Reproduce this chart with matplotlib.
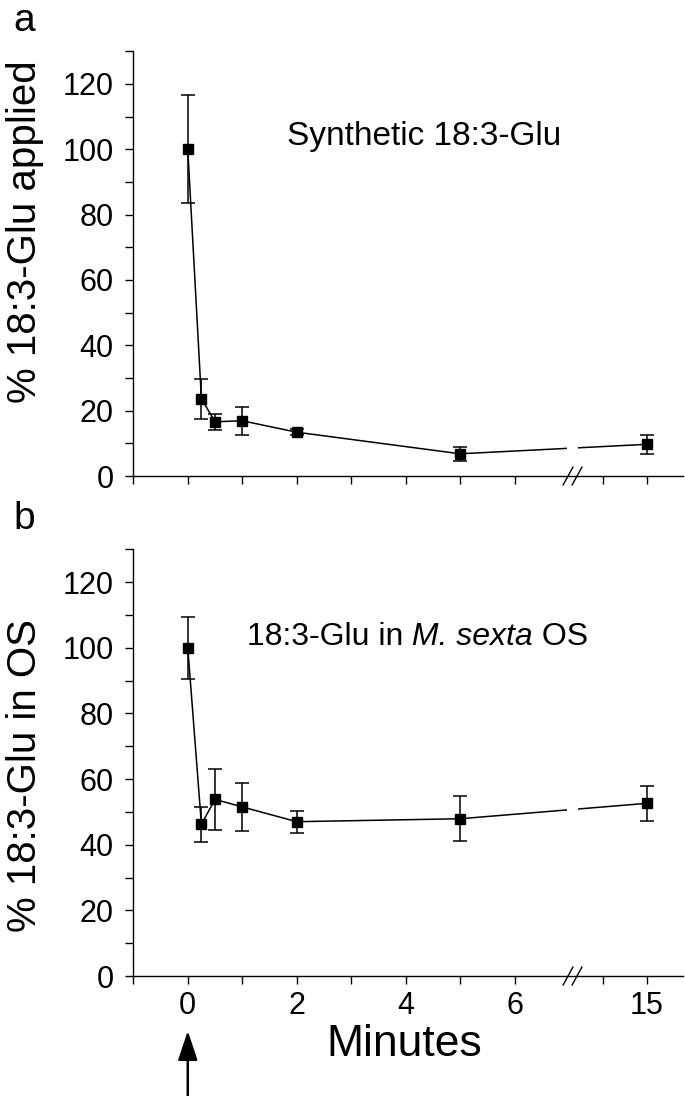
import numpy as np
import matplotlib.pyplot as plt
from matplotlib import font_manager

plt.rcParams['font.family'] = ['Liberation Sans', 'DejaVu Sans']

# time points (minutes); 15 min sits after the axis break
minutes = [0, 0.25, 0.5, 1, 2, 5, 15]
tick_labels = ['0', '2', '4', '6', '15']

# panel a: synthetic 18:3-Glu
syn_mean = [100, 23.7, 16.6, 16.9, 13.4, 6.8, 9.7]
syn_err = [16.5, 6.1, 2.5, 4.3, 1.0, 2.2, 3.0]

# panel b: 18:3-Glu in M. sexta OS
os_mean = [100, 46.2, 53.8, 51.5, 47.0, 47.9, 52.6]
os_err = [9.5, 5.4, 9.2, 7.3, 3.4, 6.8, 5.3]

W, H = 685, 1096

# tick numbers in the original are narrow, use the narrow face if present
try:
    font_manager.findfont(font_manager.FontProperties(family='Liberation Sans Narrow'),
                          fallback_to_default=False)
    tick_font, tick_size = 'Liberation Sans Narrow', 26
except Exception:
    tick_font, tick_size = 'Liberation Sans', 22


def xpos(t):
    # broken axis: 0-6 linear, 15 drawn at 8.43
    t = np.asarray(t, dtype=float)
    return np.where(t > 7, 8.43, t)


fig = plt.figure(figsize=(W / 100, H / 100), dpi=100)
left = 133.3 / W
width = 683 / W - left
ax1 = fig.add_axes([left, 1 - 476 / H, width, (476 - 51.3) / H])
ax2 = fig.add_axes([left, 1 - 976 / H, width, (976 - 549.2) / H])

for ax, m, e in [(ax1, syn_mean, syn_err), (ax2, os_mean, os_err)]:
    x = xpos(minutes)
    ax.errorbar(x, m, yerr=e, fmt='s-', color='black', ms=7.5, lw=1.1,
                elinewidth=1.1, capsize=5, capthick=1.1, zorder=3)
    # gap in the line at the break
    ax.axvspan(6.96, 7.16, ymin=0.02, ymax=1, color='white', zorder=4, lw=0)
    ax.set_xlim(-1, 9.09)
    ax.set_ylim(0, 130)
    for s in ['top', 'right']:
        ax.spines[s].set_visible(False)
    for s in ['left', 'bottom']:
        ax.spines[s].set_linewidth(1.0)
    ax.set_yticks(range(0, 121, 20))
    ax.set_yticks(range(10, 131, 20), minor=True)
    ax.set_xticks([0, 2, 4, 6, 8.43])
    ax.set_xticks([-1, 1, 3, 5, 7.62], minor=True)
    ax.tick_params(which='both', direction='out', length=6, width=1.0)
    ax.tick_params(axis='y', pad=8)
    ax.tick_params(axis='x', pad=5)
    for lab in ax.get_xticklabels() + ax.get_yticklabels():
        lab.set_fontfamily(tick_font)
        lab.set_fontsize(tick_size)
    # break marks
    for cx in [6.98, 7.145]:
        ax.plot([cx - 0.09, cx + 0.09], [-0.021, 0.021], color='black',
                lw=1.0, transform=ax.get_xaxis_transform(), clip_on=False,
                zorder=5)

ax1.set_xticklabels([])
ax2.set_xticklabels(tick_labels, fontfamily=tick_font, fontsize=tick_size)

fig.text(287 / W, 1 - 137 / H, 'Synthetic 18:3-Glu', fontsize=24,
         va='center', ha='left')

# panel b caption in three pieces so only the species name is italic
t1 = fig.text(247 / W, 1 - 652 / H, '18:3-Glu in', fontsize=23,
              va='bottom', ha='left')
t2 = fig.text(0, 0, ' M. sexta', fontsize=23, fontstyle='italic',
              va='bottom', ha='left')
t3 = fig.text(0, 0, ' OS', fontsize=23, va='bottom', ha='left')
fig.canvas.draw()
r = fig.canvas.get_renderer()
bb1 = t1.get_window_extent(r)
t2.set_position((bb1.x1 / W, bb1.y0 / H))
bb2 = t2.get_window_extent(r)
t3.set_position((bb2.x1 / W, bb1.y0 / H))

fig.text(24 / W, 1 - 21 / H, 'a', fontsize=28, ha='center', va='center')
fig.text(24 / W, 1 - 519 / H, 'b', fontsize=28, ha='center', va='center')

fig.text(25 / W, 1 - 232 / H, '% 18:3-Glu applied', fontsize=29,
         rotation=90, ha='center', va='center')
fig.text(25 / W, 1 - 775 / H, '% 18:3-Glu in OS', fontsize=29,
         rotation=90, ha='center', va='center')

fig.text(404 / W, 1 - 1045 / H, 'Minutes', fontsize=32, ha='center',
         va='center')

# arrow marking the time of application
ax2.annotate('', xy=(0, -0.122), xycoords=('data', 'axes fraction'),
             xytext=(0, -0.3), textcoords=('data', 'axes fraction'),
             arrowprops=dict(arrowstyle='-|>,head_length=0.9,head_width=0.3',
                             mutation_scale=20, color='black', lw=1.8),
             annotation_clip=False)

fig.savefig('out.png', dpi=100)
